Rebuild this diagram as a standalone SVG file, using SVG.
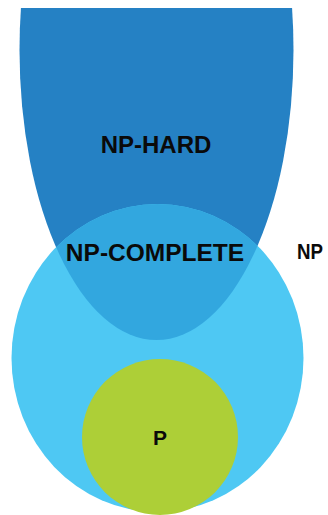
<svg xmlns="http://www.w3.org/2000/svg" width="328" height="515" viewBox="0 0 328 515">
  <style>
    .label { font-family: "Liberation Sans", Arial, Helvetica, sans-serif; font-weight: bold; fill: #0a0a0a; text-anchor: middle; }
    .label.left { text-anchor: start; }
  </style>
  <defs>
    <!-- page edge: the NP-hard set runs off the top -->
    <clipPath id="page">
      <rect x="0" y="8" width="328" height="507"/>
    </clipPath>
    <!-- NP set, reused to carve out the NP-complete overlap -->
    <clipPath id="npClip">
      <ellipse cx="157.5" cy="358" rx="146" ry="154"/>
    </clipPath>
  </defs>

  <rect width="328" height="515" fill="#ffffff"/>

  <g id="np-hard" clip-path="url(#page)">
    <ellipse cx="156.5" cy="50" rx="137" ry="290" fill="#2581C4"/>
    <text class="label" x="156" y="153" font-size="24">NP-HARD</text>
  </g>

  <g id="np">
    <ellipse cx="157.5" cy="358" rx="146" ry="154" fill="#4EC8F3"/>
    <text class="label left" x="297" y="258.5" font-size="22" textLength="26" lengthAdjust="spacingAndGlyphs">NP</text>
  </g>

  <g id="np-complete">
    <g clip-path="url(#npClip)">
      <ellipse cx="156.5" cy="50" rx="137" ry="290" fill="#32A7DF"/>
    </g>
    <text class="label" x="155" y="261" font-size="24.5">NP-COMPLETE</text>
  </g>

  <g id="p">
    <circle cx="160" cy="437" r="78" fill="#ADCF37"/>
    <text class="label" x="160" y="445" font-size="21">P</text>
  </g>

  <g id="connectors"/>
</svg>
